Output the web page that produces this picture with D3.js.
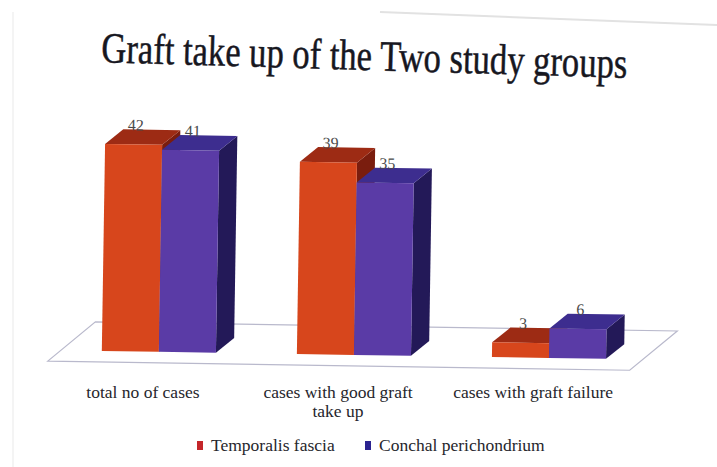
<!DOCTYPE html>
<html>
<head>
<meta charset="utf-8">
<script src="https://d3js.org/d3.v7.min.js"></script>
<style>
  body { margin: 0; background: #fff; }
  svg { display: block; }
  text { font-family: "Liberation Serif", "Times New Roman", Times, serif; }
</style>
</head>
<body>
<script>
// data
var categories = ["total no of cases", "cases with good graft take up", "cases with graft failure"];
var categoryLines = [["total no of cases"], ["cases with good graft", "take up"], ["cases with graft failure"]];
var seriesNames = ["Temporalis fascia", "Conchal perichondrium"];
var temporalis = [42, 39, 3];
var conchal = [41, 35, 6];

var w = 717, h = 467;
var base = 355;        // front bottom of the bars
var dx = 18, dy = -15; // bar depth

var colors = {
  "Temporalis fascia": { front: "#d7461c", top: "#9d2b14", side: "#7a1d0e", key: "#c4262a" },
  "Conchal perichondrium": { front: "#5a3ba6", top: "#3d2d8f", side: "#231958", key: "#2b2390" }
};

var svg = d3.select("body").append("svg")
  .attr("width", w)
  .attr("height", h);

// faint edges of the projected slide
svg.append("line").attr("x1", 380).attr("y1", 12).attr("x2", 717).attr("y2", 25)
  .attr("stroke", "#e2e2e2").attr("stroke-width", 2);
svg.append("line").attr("x1", 13).attr("y1", 12).attr("x2", 13).attr("y2", 467)
  .attr("stroke", "#f0f0f0").attr("stroke-width", 1.5);

// title (photo is a bit stretched vertically and tilted)
svg.append("g")
  .attr("transform", "translate(364,70) rotate(1.7) scale(1,1.2)")
  .append("text")
  .attr("x", 0).attr("y", 0)
  .attr("text-anchor", "middle")
  .attr("textLength", 526)
  .attr("lengthAdjust", "spacingAndGlyphs")
  .style("font-size", "36px")
  .style("fill", "#17171f")
  .style("stroke", "#17171f")
  .style("stroke-width", 0.4)
  .text("Graft take up of the Two study groups");

var chart = svg.append("g").attr("transform", "rotate(0.9,360,350)");

var x0 = d3.scaleBand()
  .domain(categories)
  .range([57, 651])
  .paddingInner(0.415)
  .paddingOuter(0.23);

var x1 = d3.scaleBand()
  .domain(seriesNames)
  .range([0, x0.bandwidth()]);

var y = d3.scaleLinear()
  .domain([0, 42])
  .range([base, 148]);

// floor
var fl = 48, fr = 630, ff = base + 11, fdx = 47, fdy = -40;
chart.append("path")
  .attr("d", "M" + fl + "," + ff + "L" + fr + "," + ff + "L" + (fr + fdx) + "," + (ff + fdy) +
             "L" + (fl + fdx) + "," + (ff + fdy) + "Z")
  .attr("fill", "#fff")
  .attr("stroke", "#b9b9cc")
  .attr("stroke-width", 1.2);

var rows = categories.map(function (c, i) {
  return { cat: c, values: [
    { name: seriesNames[0], v: temporalis[i] },
    { name: seriesNames[1], v: conchal[i] }
  ] };
});

var groups = chart.selectAll("g.grp")
  .data(rows)
  .enter().append("g")
  .attr("class", "grp")
  .attr("transform", function (d) { return "translate(" + x0(d.cat) + ",0)"; });

var bars = groups.selectAll("g.bar")
  .data(function (d) { return d.values; })
  .enter().append("g")
  .attr("class", "bar");

// side face
bars.append("path")
  .attr("d", function (d) {
    var xr = x1(d.name) + x1.bandwidth(), yt = y(d.v);
    return "M" + xr + "," + yt + "L" + (xr + dx) + "," + (yt + dy) + "L" + (xr + dx) + "," + (base + dy) +
           "L" + xr + "," + base + "Z";
  })
  .attr("fill", function (d) { return colors[d.name].side; });

// top face
bars.append("path")
  .attr("d", function (d) {
    var xl = x1(d.name), xr = xl + x1.bandwidth(), yt = y(d.v);
    return "M" + xl + "," + yt + "L" + xr + "," + yt + "L" + (xr + dx) + "," + (yt + dy) +
           "L" + (xl + dx) + "," + (yt + dy) + "Z";
  })
  .attr("fill", function (d) { return colors[d.name].top; });

// front face
bars.append("rect")
  .attr("x", function (d) { return x1(d.name); })
  .attr("y", function (d) { return y(d.v); })
  .attr("width", x1.bandwidth())
  .attr("height", function (d) { return base - y(d.v); })
  .attr("fill", function (d) { return colors[d.name].front; });

// value labels
groups.selectAll("text.val")
  .data(function (d) { return d.values; })
  .enter().append("text")
  .attr("class", "val")
  .attr("x", function (d) { return x1(d.name) + x1.bandwidth() / 2 + 2; })
  .attr("y", function (d) { return y(d.v) + dy + 1; })
  .attr("text-anchor", "middle")
  .style("font-size", "16px")
  .style("fill", "#4a4a4a")
  .text(function (d) { return d.v; });

// category labels (not tilted in the photo)
function catX(c) { return x0(c) + x0.bandwidth() / 2 - 16; }

var catText = svg.selectAll("text.cat")
  .data(categories)
  .enter().append("text")
  .attr("class", "cat")
  .attr("x", catX)
  .attr("y", 398)
  .attr("text-anchor", "middle")
  .style("font-size", "17.5px")
  .style("fill", "#26262c");

catText.selectAll("tspan")
  .data(function (d, i) { return categoryLines[i].map(function (t) { return { cat: d, t: t }; }); })
  .enter().append("tspan")
  .attr("x", function (d) { return catX(d.cat); })
  .attr("dy", function (d, i) { return i === 0 ? 0 : 19; })
  .text(function (d) { return d.t; });

// legend
var legendX = [197, 365];
var legend = svg.selectAll("g.leg")
  .data(seriesNames)
  .enter().append("g")
  .attr("class", "leg")
  .attr("transform", function (d, i) { return "translate(" + legendX[i] + ",451)"; });

legend.append("rect")
  .attr("x", 0).attr("y", -10)
  .attr("width", 6).attr("height", 9)
  .attr("fill", function (d) { return colors[d].key; });

legend.append("text")
  .attr("x", 14).attr("y", 0)
  .style("font-size", "17.5px")
  .style("fill", "#26262c")
  .text(function (d) { return d; });
</script>
</body>
</html>
